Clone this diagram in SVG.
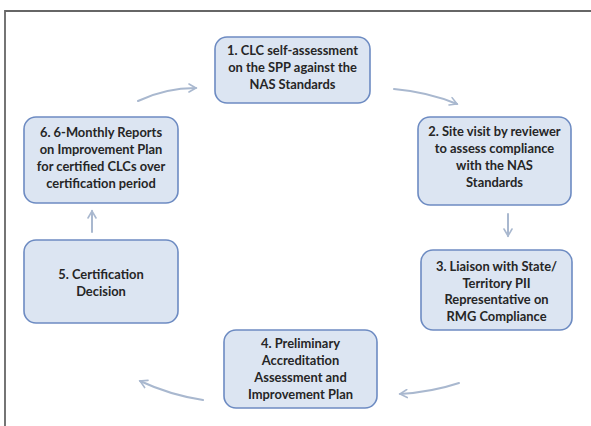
<svg xmlns="http://www.w3.org/2000/svg" width="591" height="426" viewBox="0 0 591 426">
<defs>
<style>
.box{fill:#dce5f2;stroke:#6d8bc2;stroke-width:1.6}
.t{font-family:Lato,"Liberation Sans",sans-serif;font-weight:bold;font-size:12.9px;fill:#262626;text-anchor:middle}
.c{fill:none;stroke:#a9b8cf;stroke-width:2;stroke-linecap:round;marker-end:url(#ah)}
</style>
<marker id="ah" viewBox="0 0 10 10" refX="8" refY="5" markerWidth="5" markerHeight="5" orient="auto" markerUnits="strokeWidth">
<path d="M1,1 L8,5 L1,9" fill="none" stroke="#a9b8cf" stroke-width="1.6" stroke-linecap="round"/>
</marker>
</defs>
<rect width="591" height="426" fill="#ffffff"/>
<path d="M5,426 V11 H591" fill="none" stroke="#666666" stroke-width="1.8"/>
<g id="connectors">
<path class="c" d="M138,101 Q165,88 196,88"/>
<path class="c" d="M394,89 Q428,92 457,104"/>
<path class="c" d="M508,214 V236"/>
<path class="c" d="M459,383 Q432,392 400,394"/>
<path class="c" d="M203,400 Q170,395 140,381"/>
<path class="c" d="M92,232 V211"/>
</g>
<g id="node1">
<rect class="box" x="215" y="37" width="155" height="66" rx="12"/>
<text class="t" x="292.5" y="55">1. CLC self-assessment</text>
<text class="t" x="292.5" y="72">on the SPP against the</text>
<text class="t" x="292.5" y="89">NAS Standards</text>
</g>
<g id="node2">
<rect class="box" x="418" y="117" width="153" height="88" rx="12"/>
<text class="t" x="494.5" y="136">2. Site visit by reviewer</text>
<text class="t" x="494.5" y="153">to assess compliance</text>
<text class="t" x="494.5" y="170">with the NAS</text>
<text class="t" x="494.5" y="187">Standards</text>
</g>
<g id="node3">
<rect class="box" x="421" y="250" width="151" height="80" rx="12"/>
<text class="t" x="496.5" y="271">3. Liaison with State/</text>
<text class="t" x="496.5" y="288">Territory PII</text>
<text class="t" x="496.5" y="304">Representative on</text>
<text class="t" x="496.5" y="321">RMG Compliance</text>
</g>
<g id="node4">
<rect class="box" x="224" y="330" width="153" height="78" rx="12"/>
<text class="t" x="300.5" y="348">4. Preliminary</text>
<text class="t" x="300.5" y="365">Accreditation</text>
<text class="t" x="300.5" y="382">Assessment and</text>
<text class="t" x="300.5" y="399">Improvement Plan</text>
</g>
<g id="node5">
<rect class="box" x="24" y="240" width="154" height="83" rx="12"/>
<text class="t" x="101" y="279">5. Certification</text>
<text class="t" x="101" y="296">Decision</text>
</g>
<g id="node6">
<rect class="box" x="24" y="117" width="154" height="86" rx="12"/>
<text class="t" x="101" y="137">6. 6-Monthly Reports</text>
<text class="t" x="101" y="154">on Improvement Plan</text>
<text class="t" x="101" y="171">for certified CLCs over</text>
<text class="t" x="101" y="188">certification period</text>
</g>
</svg>
